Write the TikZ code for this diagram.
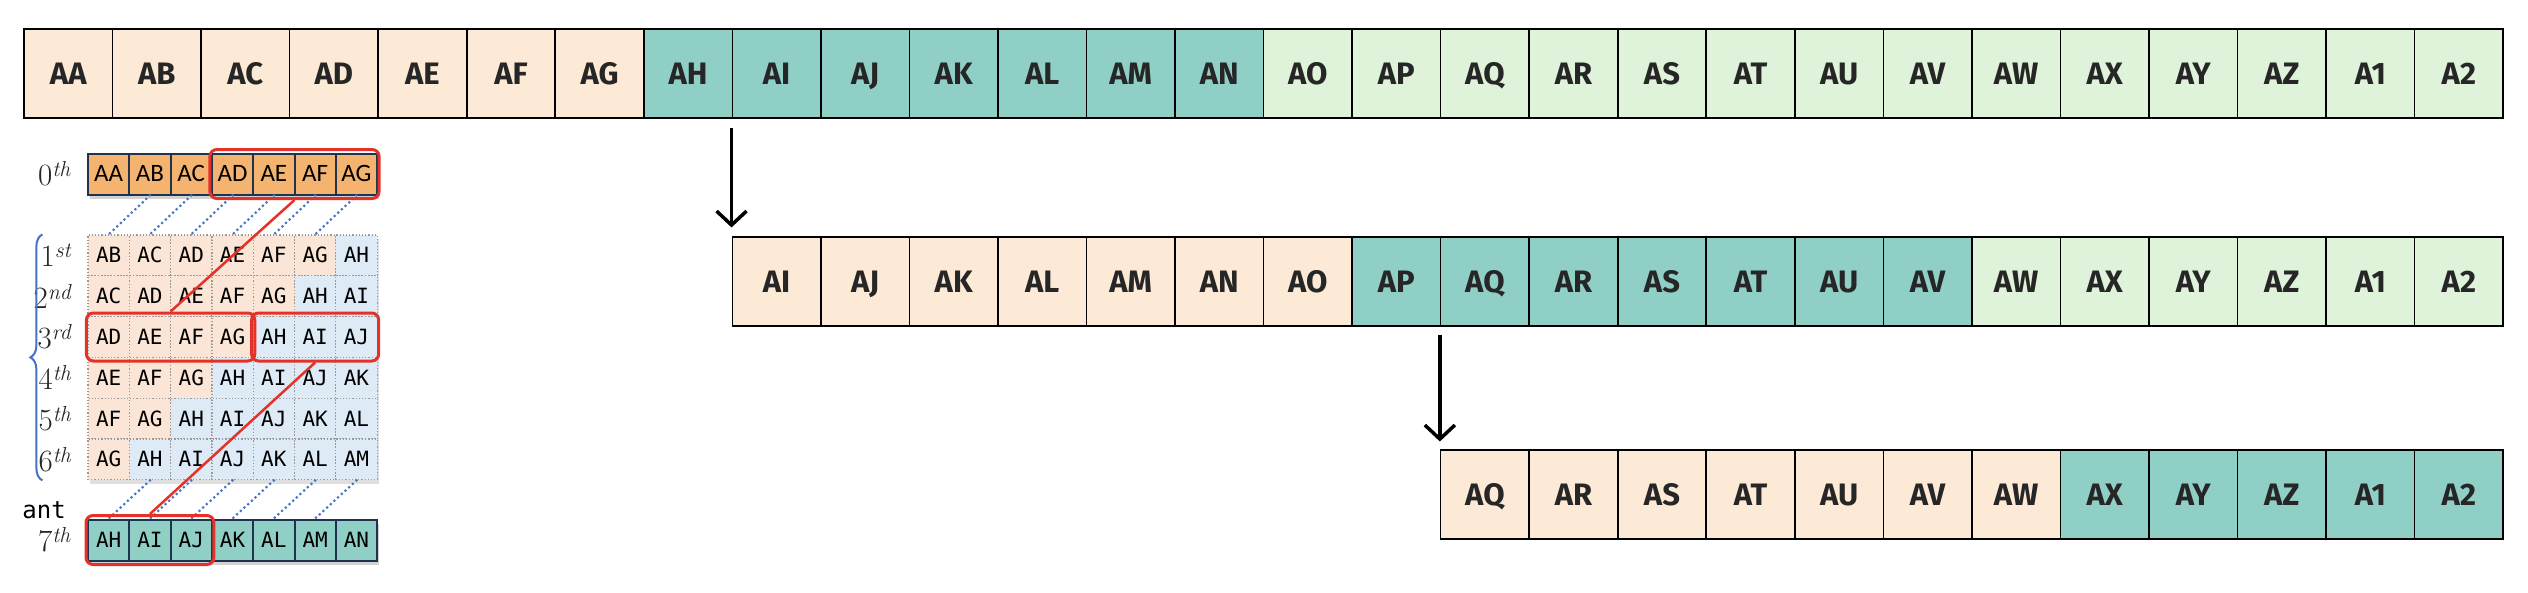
\documentclass[tikz,border=0pt]{standalone}
\usepackage{fontspec}
\usepackage{tikz}
\usetikzlibrary{positioning,arrows.meta,fit,shadows,decorations.pathreplacing}
\newfontfamily\cellfont{Fira Sans}
\newfontfamily\gridmono{DejaVu Sans Mono}
\newfontfamily\gridsans{Carlito}
\definecolor{peach}{HTML}{FCEAD6}
\definecolor{tealc}{HTML}{8FCFC6}
\definecolor{mint}{HTML}{DFF3DA}
\definecolor{gridpeach}{HTML}{FBE5D6}
\definecolor{gridblue}{HTML}{DEEBF7}
\definecolor{orangec}{HTML}{F4B470}
\definecolor{navy}{HTML}{1F3350}
\definecolor{redc}{HTML}{E53228}
\definecolor{bluec}{HTML}{4472C4}
\newcommand{\ordn}[2]{#1\textsuperscript{\itshape #2}}
\tikzset{>={Straight Barb[length=14pt,width=30pt]}}
\tikzset{
  bigcell/.style={draw, line width=1.6pt, minimum size=88.5pt, inner sep=0pt,
    text height=22pt, text depth=0pt,
    text=black!85, font=\cellfont\bfseries\fontsize{31}{36}\selectfont},
  keycell/.style={draw=navy, line width=2pt, minimum width=41.3pt, minimum height=41pt,
    inner sep=0pt, text height=15pt, text depth=0pt,
    drop shadow={shadow xshift=2pt, shadow yshift=-4pt, fill=black!35}},
  gridcell/.style={draw=gray!80, dotted, line width=1.2pt, minimum width=41.3pt,
    minimum height=40.8pt, inner sep=0pt, text height=15pt, text depth=0pt,
    font=\gridmono\fontsize{21}{24}\selectfont,
    drop shadow={shadow xshift=2pt, shadow yshift=-4pt, fill=black!25}},
  ordlabel/.style={inner sep=0pt, text=black!85, font=\fontsize{31}{35}\selectfont},
  linkdot/.style={draw=bluec, line width=3pt, line cap=round, dash pattern=on 0pt off 5pt},
  selbox/.style={draw=redc, line width=3pt, rounded corners=7pt, inner xsep=1pt, inner ysep=3pt},
  selline/.style={draw=redc, line width=2.5pt},
  shift arrow/.style={->, line width=3.5pt}
}
\def\gridlets{{"AA","AB","AC","AD","AE","AF","AG","AH","AI","AJ","AK","AL","AM","AN"}}
\begin{document}
\begin{tikzpicture}[x=1pt, y=-1pt]
  \useasboundingbox (0,0) rectangle (2528,592);
  % whole sequence
  \foreach \t [count=\i from 0] in {AA,AB,AC,AD,AE,AF,AG,AH,AI,AJ,AK,AL,AM,AN,AO,AP,AQ,AR,AS,AT,AU,AV,AW,AX,AY,AZ,A1,A2}{
    \ifnum\i<7 \def\cc{peach}\else\ifnum\i<14 \def\cc{tealc}\else\def\cc{mint}\fi\fi
    \node[bigcell, fill=\cc] (t\i) at ({24+88.54*(\i+0.5)},73.5) {\t};
  }
  % shifted once
  \foreach \t [count=\i from 0] in {AI,AJ,AK,AL,AM,AN,AO,AP,AQ,AR,AS,AT,AU,AV,AW,AX,AY,AZ,A1,A2}{
    \ifnum\i<7 \def\cc{peach}\else\ifnum\i<14 \def\cc{tealc}\else\def\cc{mint}\fi\fi
    \node[bigcell, fill=\cc] (m\i) at ({24+88.54*(\i+8.5)},281.5) {\t};
  }
  % shifted twice
  \foreach \t [count=\i from 0] in {AQ,AR,AS,AT,AU,AV,AW,AX,AY,AZ,A1,A2}{
    \ifnum\i<7 \def\cc{peach}\else\def\cc{tealc}\fi
    \node[bigcell, fill=\cc] (b\i) at ({24+88.54*(\i+16.5)},494.5) {\t};
  }
  \draw[shift arrow] ([yshift=-9pt]t8.south west) -- ([yshift=9pt]m0.north west);
  \draw[shift arrow] ([yshift=-8pt]m8.south west) -- ([yshift=8pt]b0.north west);

  % small table on the left
  \foreach \c in {0,...,6}{
    \pgfmathsetmacro\lab{\gridlets[\c]}
    \node[keycell, fill=orangec, font=\gridsans\fontsize{25}{28}\selectfont] (g0-\c) at ({88+41.3*(\c+0.5)},174) {\lab};
  }
  \foreach \r in {1,...,6}{
    \foreach \c in {0,...,6}{
      \pgfmathtruncatemacro\k{\r+\c}
      \pgfmathsetmacro\lab{\gridlets[\k]}
      \ifnum\k<7 \def\cc{gridpeach}\else\def\cc{gridblue}\fi
      \node[gridcell, fill=\cc] (g\r-\c) at ({88+41.3*(\c+0.5)},{235+40.8*(\r-0.5)}) {\lab};
    }
  }
  \foreach \c in {0,...,6}{
    \pgfmathtruncatemacro\k{\c+7}
    \pgfmathsetmacro\lab{\gridlets[\k]}
    \node[keycell, fill=tealc, font=\gridmono\fontsize{21}{24}\selectfont] (g7-\c) at ({88+41.3*(\c+0.5)},540) {\lab};
  }
  \foreach \c [evaluate=\c as \p using int(\c-1)] in {1,...,6}{
    \draw[linkdot] (g0-\c.south) -- (g1-\p.north);
    \draw[linkdot] (g6-\c.south) -- (g7-\p.north);
  }

  % row labels
  \node[ordlabel, left=16pt of g0-0] (o0) {\ordn{0}{th}};
  \node[ordlabel, left=16pt of g1-0] (o1) {\ordn{1}{st}};
  \node[ordlabel, left=16pt of g2-0] (o2) {\ordn{2}{nd}};
  \node[ordlabel, left=16pt of g3-0] (o3) {\ordn{3}{rd}};
  \node[ordlabel, left=16pt of g4-0] (o4) {\ordn{4}{th}};
  \node[ordlabel, left=16pt of g5-0] (o5) {\ordn{5}{th}};
  \node[ordlabel, left=16pt of g6-0] (o6) {\ordn{6}{th}};
  \node[ordlabel, left=16pt of g7-0] (o7) {\ordn{7}{th}};
  \node[anchor=east, inner sep=0pt, font=\gridmono\fontsize{24}{27}\selectfont] (ant) at (66,510) {ant};
  \draw[draw=bluec, line width=2pt, decorate, decoration={brace, amplitude=12pt}]
    ([xshift=-45pt]g6-0.south west) -- ([xshift=-45pt]g1-0.north west);

  % selected windows
  \node[selbox, fit=(g0-3)(g0-6)] (selA) {};
  \node[selbox, fit=(g3-0)(g3-3)] (selB) {};
  \node[selbox, fit=(g3-4)(g3-6)] (selC) {};
  \node[selbox, fit=(g7-0)(g7-2)] (selD) {};
  \draw[selline] (selA.south) -- (selB.north);
  \draw[selline] (selC.south) -- (selD.north);
\end{tikzpicture}
\end{document}
